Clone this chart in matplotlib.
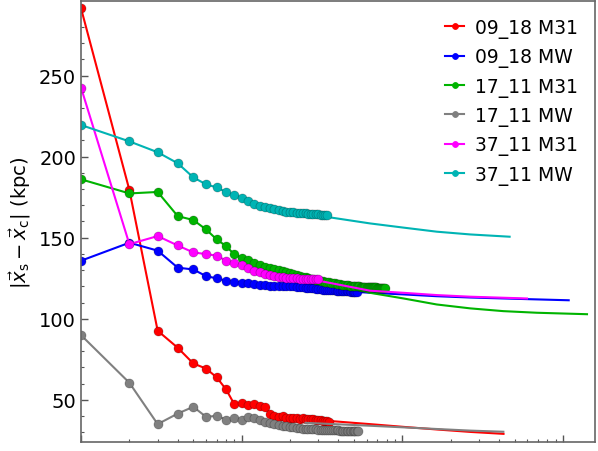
import numpy as np
import matplotlib
matplotlib.use('Agg')
import matplotlib.pyplot as plt
from matplotlib.ticker import MultipleLocator, NullFormatter

# snapshot values (one per step, step = 1, 2, 3, ...)
red_m31_0918 = [291.5, 179.4, 92.6, 82.1, 72.4, 69.3, 63.8, 56.4, 47.3, 48.3,
                46.7, 47.7, 46.3, 45.7, 41.0, 40.0, 39.5, 39.8, 39.0, 38.8,
                38.9, 38.5, 38.4, 38.6, 38.2, 38.1, 38.3, 38.0, 37.8, 37.6,
                37.5, 37.2, 37.0, 36.8, 36.6]
blue_mw_0918 = [135.8, 146.9, 142.0, 131.5, 130.4, 126.3, 124.9, 123.5, 122.8, 122.3,
                121.8, 121.2, 120.7, 120.6, 120.5, 120.4, 120.4, 120.2, 120.1, 120.0,
                119.9, 119.8, 119.6, 119.4, 119.2, 119.0, 118.8, 118.7, 118.5, 118.3,
                118.2, 118.0, 117.9, 117.8, 117.7, 117.7, 117.6, 117.5, 117.4, 117.3,
                117.3, 117.2, 117.1, 117.1, 117.0, 116.9, 116.9, 116.8, 116.8, 116.7,
                116.7, 116.6]
green_m31_1711 = [186.0, 177.3, 178.2, 163.3, 160.9, 155.1, 148.9, 144.8, 139.7, 137.7,
                  136.2, 134.6, 133.1, 132.1, 131.3, 130.6, 130.0, 129.3, 128.7, 128.0,
                  127.4, 126.9, 126.5, 126.0, 125.5, 125.0, 124.6, 124.3, 124.0, 123.7,
                  123.4, 123.2, 122.9, 122.7, 122.5, 122.2, 122.0, 121.8, 121.6, 121.4,
                  121.3, 121.1, 121.0, 120.8, 120.7, 120.6, 120.5, 120.4, 120.3, 120.2,
                  120.1, 120.0, 119.9, 119.9, 119.8, 119.8, 119.7, 119.7, 119.6, 119.6,
                  119.5, 119.5, 119.5, 119.4, 119.4, 119.4, 119.3, 119.3, 119.3, 119.2,
                  119.2, 119.2, 119.1, 119.1, 119.1, 119.1, 119.0, 119.0]
grey_mw_1711 = [89.9, 60.5, 35.0, 41.5, 45.7, 39.5, 40.1, 37.8, 38.5, 37.4,
                39.5, 38.5, 37.4, 36.4, 36.0, 35.2, 34.3, 34.0, 33.6, 33.2,
                33.0, 32.7, 32.5, 32.3, 32.2, 32.0, 31.9, 31.8, 31.7, 31.6,
                31.5, 31.5, 31.4, 31.4, 31.3, 31.3, 31.2, 31.2, 31.1, 31.1,
                31.0, 31.0, 31.0, 31.0, 31.0, 30.9, 30.9, 30.9, 30.9, 30.9,
                30.9, 30.9, 30.9]
mag_m31_3711 = [242.6, 146.0, 151.0, 145.2, 140.9, 139.9, 138.9, 135.8, 134.1, 133.1,
                131.0, 129.4, 128.6, 127.3, 126.8, 126.3, 125.9, 125.6, 125.3, 125.1,
                125.0, 124.9, 124.8, 124.7, 124.6, 124.5, 124.5, 124.4, 124.3, 124.3]
cyan_mw_3711 = [219.5, 209.4, 202.7, 195.9, 187.2, 182.9, 181.0, 178.1, 176.1, 174.5,
                172.4, 170.8, 169.8, 169.0, 168.4, 167.6, 167.0, 166.5, 166.1, 165.9,
                165.6, 165.4, 165.3, 165.1, 165.0, 164.9, 164.8, 164.7, 164.6, 164.5,
                164.3, 164.2, 164.1, 164.0]

# integrated continuation (line only): (step, distance)
red_tail_x = [30, 63, 102, 164, 265, 427]
red_tail_y = [37.5, 35.0, 33.3, 31.7, 30.2, 29.0]
blue_tail_x = [45, 63, 102, 164, 265, 598, 1087]
blue_tail_y = [117.0, 116.0, 115.0, 113.9, 113.1, 112.1, 111.4]
green_tail_x = [40, 63, 102, 164, 265, 425, 688, 1413]
green_tail_y = [121.4, 116.0, 112.5, 108.8, 106.4, 104.7, 103.7, 102.8]
grey_tail_x = [25, 63, 102, 164, 265, 426]
grey_tail_y = [35.8, 34.0, 33.0, 32.0, 31.0, 30.3]
mag_tail_x = [30, 63, 102, 164, 265, 598]
mag_tail_y = [123.5, 117.3, 116.0, 114.6, 113.6, 112.5]
cyan_tail_x = [34, 63, 102, 164, 265, 466]
cyan_tail_y = [162.8, 158.8, 156.2, 153.7, 152.0, 150.6]

labels = ['09_18 M31', '09_18 MW', '17_11 M31', '17_11 MW', '37_11 M31', '37_11 MW']
colors = ['#ff0000', '#0000ff', '#00b400', '#808080', '#ff00ff', '#00b4b4']
series = [red_m31_0918, blue_mw_0918, green_m31_1711, grey_mw_1711, mag_m31_3711, cyan_mw_3711]
tails = [(red_tail_x, red_tail_y), (blue_tail_x, blue_tail_y), (green_tail_x, green_tail_y),
         (grey_tail_x, grey_tail_y), (mag_tail_x, mag_tail_y), (cyan_tail_x, cyan_tail_y)]

fig = plt.figure(figsize=(5.98, 4.52), dpi=100)
ax = fig.add_axes([0.1355, 0.02, 0.8595, 0.9756])

for vals, (tx, ty), col, lab in zip(series, tails, colors, labels):
    steps = np.arange(1, len(vals) + 1)
    ax.plot(tx, ty, '-', color=col, lw=1.5)
    ax.plot(steps, vals, '-o', color=col, lw=1.5, ms=6.5,
            mec=(0, 0, 0, 0.25), mew=0.6, label=lab)

ax.set_xscale('log')
ax.set_xlim(1, 1585)
ax.set_ylim(24, 296)
ax.yaxis.set_major_locator(MultipleLocator(50))
ax.yaxis.set_minor_locator(MultipleLocator(10))
ax.xaxis.set_minor_formatter(NullFormatter())
ax.tick_params(which='both', direction='in', top=False, right=False,
               labelbottom=False, labelsize=14, color='#555555')
ax.tick_params(which='major', length=5, width=1)
ax.tick_params(which='minor', length=2.5, width=0.8)
for sp in ax.spines.values():
    sp.set_color('#666666')
    sp.set_linewidth(1.2)

ax.set_ylabel(r'$|\vec{x}_{\rm s} - \vec{x}_{\rm c}|$ (kpc)', fontsize=14)
leg = ax.legend(loc='upper right', frameon=False, fontsize=13.5, handlelength=1.0,
                handletextpad=0.6, labelspacing=0.5, markerscale=0.65)
for h, col in zip(leg.legend_handles, colors):
    h.set_markeredgecolor(col)

fig.savefig('out.png', dpi=100)
